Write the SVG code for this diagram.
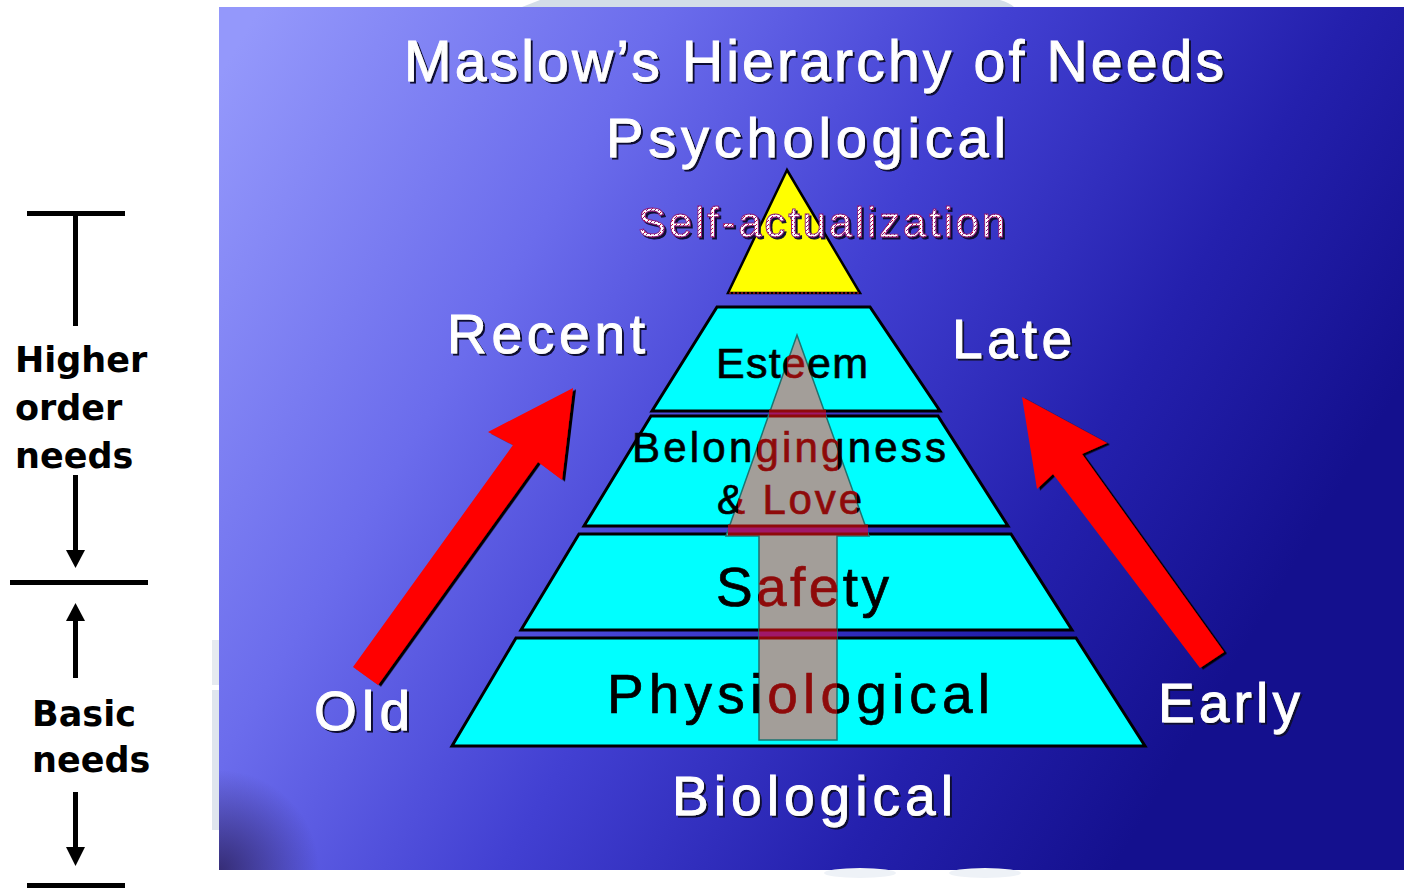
<svg xmlns="http://www.w3.org/2000/svg" width="1404" height="890" viewBox="0 0 1404 890">
<defs>
<style>
.lbl{font-family:"Liberation Sans",Arial,sans-serif;fill:#ffffff;stroke:#ffffff;stroke-width:0.9}
.lay{font-family:"Liberation Sans",Arial,sans-serif;stroke-width:0.7}
.side{font-family:"DejaVu Sans",Verdana,sans-serif;font-weight:bold;font-size:35px;fill:#000}
.tier{fill:#00ffff;stroke:#000;stroke-width:3;stroke-linejoin:miter}
.bar{fill:#000}
</style>
<linearGradient id="bg" gradientUnits="userSpaceOnUse" x1="240" y1="40" x2="1250" y2="640">
<stop offset="0" stop-color="#9498fb"/>
<stop offset="0.3" stop-color="#6b6cec"/>
<stop offset="0.55" stop-color="#4240d2"/>
<stop offset="0.8" stop-color="#2420ad"/>
<stop offset="1" stop-color="#14108e"/>
</linearGradient>
<radialGradient id="corner" gradientUnits="userSpaceOnUse" cx="219" cy="870" r="100">
<stop offset="0" stop-color="#2a1f5a" stop-opacity="0.8"/>
<stop offset="1" stop-color="#2a1f5a" stop-opacity="0"/>
</radialGradient>
<pattern id="dither" width="4" height="4" patternUnits="userSpaceOnUse">
<rect width="4" height="4" fill="#ffffff"/>
<rect x="0" y="0" width="1" height="1" fill="#e00020"/>
<rect x="2" y="2" width="1" height="1" fill="#8a1a78"/>
<rect x="3" y="1" width="1" height="1" fill="#8a1a78"/>
</pattern>
<linearGradient id="gEst" gradientUnits="userSpaceOnUse" x1="787" y1="0" x2="808" y2="0">
<stop offset="0" stop-color="#000"/><stop offset="0" stop-color="#8e0a0a"/><stop offset="1" stop-color="#8e0a0a"/><stop offset="1" stop-color="#000"/>
</linearGradient>
<linearGradient id="gBel" gradientUnits="userSpaceOnUse" x1="758" y1="0" x2="838" y2="0">
<stop offset="0" stop-color="#000"/><stop offset="0" stop-color="#8e0a0a"/><stop offset="1" stop-color="#8e0a0a"/><stop offset="1" stop-color="#000"/>
</linearGradient>
<linearGradient id="gLove" gradientUnits="userSpaceOnUse" x1="738" y1="0" x2="857" y2="0">
<stop offset="0" stop-color="#000"/><stop offset="0" stop-color="#8e0a0a"/><stop offset="1" stop-color="#8e0a0a"/><stop offset="1" stop-color="#000"/>
</linearGradient>
<linearGradient id="gShaft" gradientUnits="userSpaceOnUse" x1="759" y1="0" x2="837" y2="0">
<stop offset="0" stop-color="#000"/><stop offset="0" stop-color="#8e0a0a"/><stop offset="1" stop-color="#8e0a0a"/><stop offset="1" stop-color="#000"/>
</linearGradient>
<filter id="tsh" x="-5%" y="-20%" width="110%" height="140%">
<feDropShadow dx="2" dy="2" stdDeviation="0.4" flood-color="#0c0c30" flood-opacity="1"/>
</filter>
<filter id="ash" x="-10%" y="-10%" width="120%" height="120%">
<feDropShadow dx="3" dy="1.5" stdDeviation="0" flood-color="#000" flood-opacity="1"/>
</filter>
</defs>

<g id="background">
<path d="M522 7 L540 0 L1000 0 Q1010 3 1014 7 Z" fill="#d3dde8"/>
<rect x="212" y="640" width="8" height="45" fill="#e6eaf0"/>
<rect x="212" y="690" width="8" height="140" fill="#dfe5ee"/>
<rect x="219" y="7" width="1185" height="863" fill="url(#bg)"/>
<rect x="219" y="760" width="110" height="110" fill="url(#corner)"/>
<ellipse cx="860" cy="873" rx="36" ry="5" fill="#eef2f7"/>
<ellipse cx="985" cy="873" rx="36" ry="5" fill="#eef2f7"/>
</g>

<g id="side-annotations">
<rect class="bar" x="27" y="211" width="98" height="5"/>
<rect class="bar" x="73" y="216" width="5" height="110"/>
<text class="side" x="15" y="372">Higher</text>
<text class="side" x="15" y="420">order</text>
<text class="side" x="15" y="468">needs</text>
<rect class="bar" x="73" y="475" width="5" height="77"/>
<polygon class="bar" points="66,550 85,550 75.5,568"/>
<rect class="bar" x="10" y="580" width="138" height="5"/>
<polygon class="bar" points="75.5,603 66,621 85,621"/>
<rect class="bar" x="73" y="620" width="5" height="58"/>
<text class="side" x="32" y="726">Basic</text>
<text class="side" x="32" y="772">needs</text>
<rect class="bar" x="73" y="792" width="5" height="57"/>
<polygon class="bar" points="66,847 85,847 75.5,866"/>
<rect class="bar" x="27" y="883" width="98" height="5"/>
</g>

<g id="titles" filter="url(#tsh)">
<text class="lbl" x="404" y="81" font-size="57" textLength="820" lengthAdjust="spacing">Maslow’s Hierarchy of Needs</text>
<text class="lbl" x="606" y="157" font-size="56" textLength="400" lengthAdjust="spacing">Psychological</text>
<text class="lbl" x="672" y="815" font-size="55" textLength="281" lengthAdjust="spacing">Biological</text>
</g>

<g id="tier-self-actualization">
<polygon points="787,170 728,293 860,293" fill="#ffff00" stroke="#000" stroke-width="2.5" stroke-linejoin="miter"/>
<line x1="729" y1="293" x2="859" y2="293" stroke="#7a1010" stroke-width="2" stroke-dasharray="2 2"/>
</g>

<g id="tier-esteem"><polygon class="tier" points="717,307 870,307 940,411 652,411"/></g>
<g id="tier-belongingness"><polygon class="tier" points="651,416 938,416 1008,526 584,526"/></g>
<g id="tier-safety"><polygon class="tier" points="579,534 1011,534 1072,630 521,630"/></g>
<g id="tier-physiological"><polygon class="tier" points="516,638 1076,638 1145,746 452,746"/></g>

<g id="center-arrow">
<polygon points="797,335 869,536 837,536 837,740 759,740 759,536 726,536" fill="#a39e99" stroke="#1d7370" stroke-width="1.5" stroke-linejoin="miter"/>
<rect x="769" y="409.5" width="57" height="8" fill="#8e0a0a"/>
<rect x="769" y="412.5" width="57" height="2" fill="#a0186a"/>
<rect x="728" y="524.5" width="140" height="11" fill="#8e0a0a"/>
<rect x="728" y="527.5" width="140" height="5" fill="#a0186a"/>
<rect x="759" y="628.5" width="78" height="11" fill="#8e0a0a"/>
<rect x="759" y="631.5" width="78" height="5" fill="#a0186a"/>
</g>

<g id="tier-labels">
<text class="lay" x="716" y="378" font-size="43" style="fill:url(#gEst);stroke:url(#gEst)" textLength="152" lengthAdjust="spacing">Esteem</text>
<text class="lay" x="632" y="462" font-size="42" style="fill:url(#gBel);stroke:url(#gBel)" textLength="314" lengthAdjust="spacing">Belongingness</text>
<text class="lay" x="717" y="514" font-size="42" style="fill:url(#gLove);stroke:url(#gLove)" textLength="145" lengthAdjust="spacing">&amp; Love</text>
<text class="lay" x="716" y="606" font-size="55" style="fill:url(#gShaft);stroke:url(#gShaft)" textLength="173" lengthAdjust="spacing">Safety</text>
<text class="lay" x="607" y="713" font-size="55" style="fill:url(#gShaft);stroke:url(#gShaft)" textLength="383" lengthAdjust="spacing">Physiological</text>
</g>

<g id="self-actualization-label" filter="url(#tsh)">
<text x="638" y="237" font-family="Liberation Sans, Arial, sans-serif" font-size="42" fill="url(#dither)" stroke="#8a1a78" stroke-width="0.9" textLength="367" lengthAdjust="spacing">Self-actualization</text>
</g>

<g id="connectors" filter="url(#ash)">
<polygon id="arrow-old-recent" points="353,667 513,445 488,432 573,388 562,480 538,462 378,685" fill="#ff0000"/>
<polygon id="arrow-early-late" points="1200,668 1053,474 1037,489 1022,397 1107,443 1082,454 1224,652" fill="#ff0000"/>
</g>

<g id="time-labels" filter="url(#tsh)">
<text class="lbl" x="447" y="353" font-size="55" textLength="198" lengthAdjust="spacing">Recent</text>
<text class="lbl" x="952" y="358" font-size="55" textLength="120" lengthAdjust="spacing">Late</text>
<text class="lbl" x="314" y="730" font-size="55" textLength="96" lengthAdjust="spacing">Old</text>
<text class="lbl" x="1158" y="722" font-size="55" textLength="142" lengthAdjust="spacing">Early</text>
</g>
</svg>
